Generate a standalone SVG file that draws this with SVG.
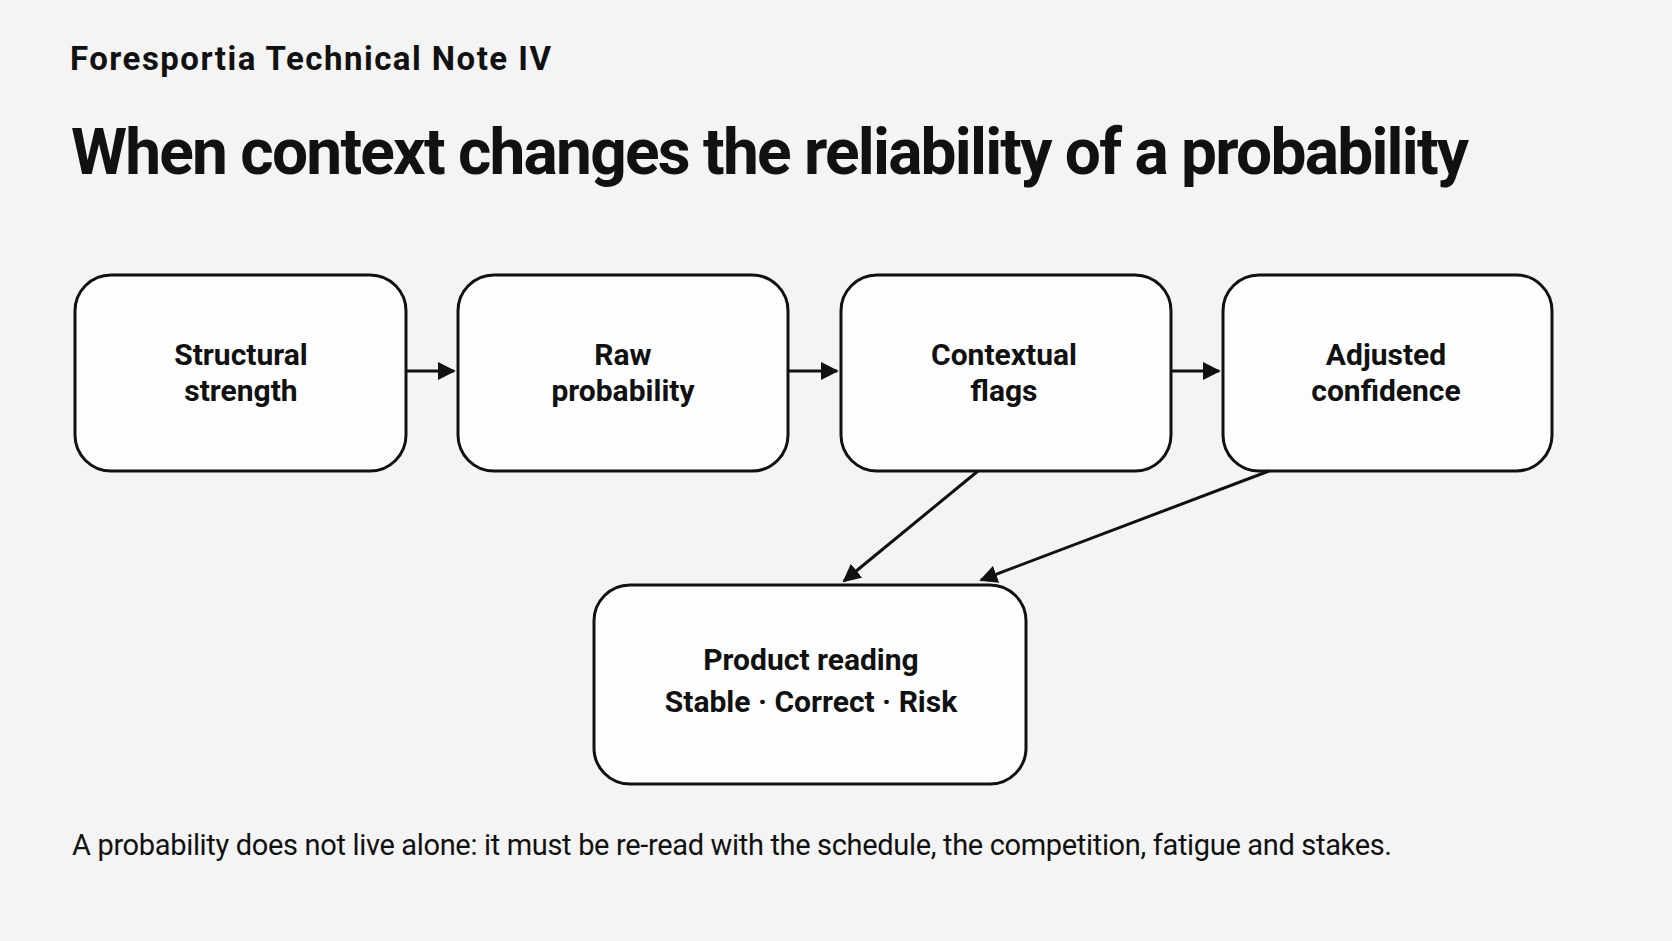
<svg xmlns="http://www.w3.org/2000/svg" width="1672" height="941" viewBox="0 0 1672 941">
<style>
.n rect{fill:#fdfdfd;stroke:#111;stroke-width:3}
.n text{font-family:Roboto,"Liberation Sans",Arial,sans-serif;font-weight:bold;font-size:30px;fill:#111;text-anchor:middle}
.c line{stroke:#111;stroke-width:3;marker-end:url(#a)}
</style>
<defs><marker id="a" viewBox="0 0 10 10" refX="9" refY="5" markerWidth="6" markerHeight="6" orient="auto" markerUnits="strokeWidth"><path d="M0,0L10,5L0,10z" fill="#111"/></marker></defs>
<rect width="1672" height="941" fill="#f4f4f4"/>
<text x="70" y="70" font-family="Roboto,Liberation Sans,Arial,sans-serif" font-weight="bold" font-size="33" fill="#111" textLength="481">Foresportia Technical Note IV</text>
<text x="71" y="174" font-family="Roboto,Liberation Sans,Arial,sans-serif" font-weight="bold" font-size="64" fill="#111" textLength="1398">When context changes the reliability of a probability</text>
<g id="n1" class="n"><rect x="75" y="275" width="331" height="196" rx="36"/><text x="241" y="365">Structural</text><text x="241" y="401">strength</text></g>
<g id="n2" class="n"><rect x="458" y="275" width="330" height="196" rx="36"/><text x="623" y="365">Raw</text><text x="623" y="401">probability</text></g>
<g id="n3" class="n"><rect x="841" y="275" width="330" height="196" rx="36"/><text x="1004" y="365">Contextual</text><text x="1004" y="401">flags</text></g>
<g id="n4" class="n"><rect x="1223" y="275" width="329" height="196" rx="36"/><text x="1386" y="365">Adjusted</text><text x="1386" y="401">confidence</text></g>
<g id="n5" class="n"><rect x="594" y="585" width="432" height="199" rx="36"/><text x="811" y="670">Product reading</text><text x="811" y="712">Stable · Correct · Risk</text></g>
<g id="connectors" class="c">
<line x1="406" y1="371" x2="454" y2="371"/>
<line x1="788" y1="371" x2="837" y2="371"/>
<line x1="1171" y1="371" x2="1219" y2="371"/>
<line x1="978" y1="471" x2="844" y2="581"/>
<line x1="1269" y1="471" x2="981" y2="580"/>
</g>
<text x="72" y="855" font-family="Roboto,Liberation Sans,Arial,sans-serif" font-size="29" fill="#111" textLength="1320">A probability does not live alone: it must be re-read with the schedule, the competition, fatigue and stakes.</text>
</svg>
